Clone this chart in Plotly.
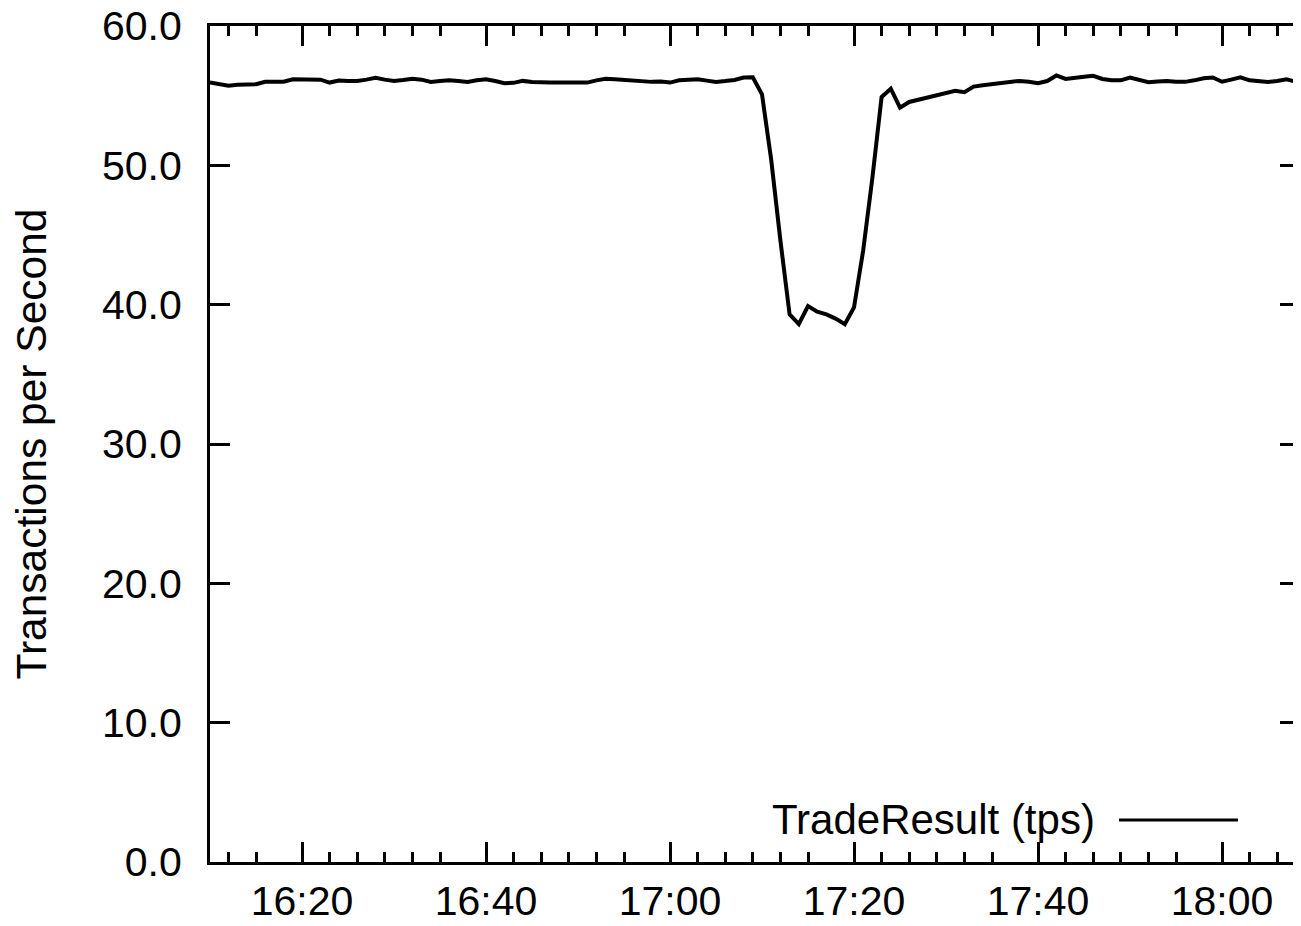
import plotly.graph_objects as go
import pandas as pd

# Transactions per second, one sample per minute starting at 16:10
tps_values = [
    55.94, 55.85, 55.72, 55.78, 55.82, 55.82, 56.00, 56.02, 56.00, 56.18,
    56.15, 56.18, 56.15, 55.94, 56.08, 56.05, 56.06, 56.15, 56.28, 56.15,
    56.06, 56.12, 56.22, 56.15, 55.99, 56.05, 56.10, 56.05, 55.99, 56.10,
    56.18, 56.05, 55.90, 55.92, 56.06, 55.98, 55.94, 55.94, 55.94, 55.94,
    55.96, 55.94, 56.10, 56.22, 56.18, 56.13, 56.10, 56.05, 55.99, 56.02,
    55.94, 56.10, 56.12, 56.18, 56.08, 55.99, 56.05, 56.13, 56.30, 56.32,
    55.10, 50.40, 44.60, 39.30, 38.60, 39.90, 39.50, 39.30, 39.00, 38.60,
    39.80, 43.90, 49.10, 54.90, 55.50, 54.14, 54.55, 54.70, 54.85, 55.00,
    55.15, 55.35, 55.25, 55.65, 55.75, 55.82, 55.90, 56.00, 56.06, 56.00,
    55.90, 56.05, 56.45, 56.20, 56.30, 56.35, 56.42, 56.20, 56.10, 56.10,
    56.30, 56.15, 55.96, 56.02, 56.06, 56.00, 55.99, 56.10, 56.25, 56.30,
    56.00, 56.15, 56.32, 56.10, 56.05, 55.99, 56.05, 56.18, 56.00, 55.94,
]
series_name = "TradeResult (tps)"
y_title = "Transactions per Second"

day = "2000-01-01"
start_time = "16:10"
times = pd.date_range(f"{day} {start_time}", periods=len(tps_values), freq="1min")

x_range = [f"{day} 16:10:00", f"{day} 18:07:43"]
major_tick0 = f"{day} 16:00"
major_step_min = 20
minor_block_starts = ["16:00", "16:20", "16:40", "17:00", "17:20", "17:40", "18:00"]
minor_offsets_min = [3, 6, 9, 12, 15]
minor_ticks = [pd.Timestamp(f"{day} {b}") + pd.Timedelta(minutes=o)
               for b in minor_block_starts for o in minor_offsets_min]

y_range = [0, 60]
y_step = 10

FONT = "Liberation Sans, Arial, sans-serif"
FS = 41

fig = go.Figure()
fig.add_trace(go.Scatter(
    x=times, y=tps_values, mode="lines", name=series_name,
    line=dict(color="black", width=4), showlegend=False,
))
# invisible companion so the right-hand tick axis is drawn
fig.add_trace(go.Scatter(
    x=times, y=tps_values, mode="lines", yaxis="y2", hoverinfo="skip",
    line=dict(color="rgba(0,0,0,0)", width=0), showlegend=False,
))

fig.update_layout(
    width=1285, height=910,
    margin=dict(l=202, r=0, t=18, b=56, autoexpand=False),
    paper_bgcolor="white", plot_bgcolor="white",
    font=dict(family=FONT, size=FS, color="black"),
    xaxis=dict(
        type="date", range=x_range, automargin=False,
        tickmode="linear", tick0=major_tick0, dtick=major_step_min * 60 * 1000,
        tickformat="%H:%M",
        ticks="inside", ticklen=20, tickwidth=3, tickcolor="black",
        showline=True, linewidth=3, linecolor="black", mirror="ticks",
        showgrid=False, zeroline=False,
        ticklabelstandoff=1, ticklabeloverflow="allow",
        minor=dict(tickmode="array", tickvals=minor_ticks, ticks="inside",
                   ticklen=10, tickwidth=3, tickcolor="black", showgrid=False),
    ),
    yaxis=dict(
        range=y_range, automargin=False,
        tickmode="linear", tick0=0, dtick=y_step,
        tickformat=".1f",
        ticks="inside", ticklen=20, tickwidth=3, tickcolor="black",
        showline=True, linewidth=3, linecolor="black",
        showgrid=False, zeroline=False,
        ticklabelstandoff=17, ticklabeloverflow="allow",
        title=dict(text=y_title, font=dict(size=42.5, family=FONT), standoff=49),
    ),
    yaxis2=dict(
        overlaying="y", side="right", anchor="x", automargin=False,
        range=y_range, tickmode="linear", tick0=0, dtick=y_step,
        ticks="inside", ticklen=13, tickwidth=3, tickcolor="black",
        showticklabels=False, showline=False, showgrid=False, zeroline=False,
    ),
)

# gnuplot-style key: label text followed by the line sample
fig.add_annotation(
    xref="paper", yref="paper", x=0.8190, y=0.0512,
    xanchor="right", yanchor="middle", showarrow=False,
    text=series_name, font=dict(family=FONT, size=42, color="black"),
)
fig.add_shape(
    type="line", xref="paper", yref="paper",
    x0=0.8393, x1=0.9492, y0=0.0502, y1=0.0502,
    line=dict(color="black", width=3),
)

fig.write_html("out.html")
